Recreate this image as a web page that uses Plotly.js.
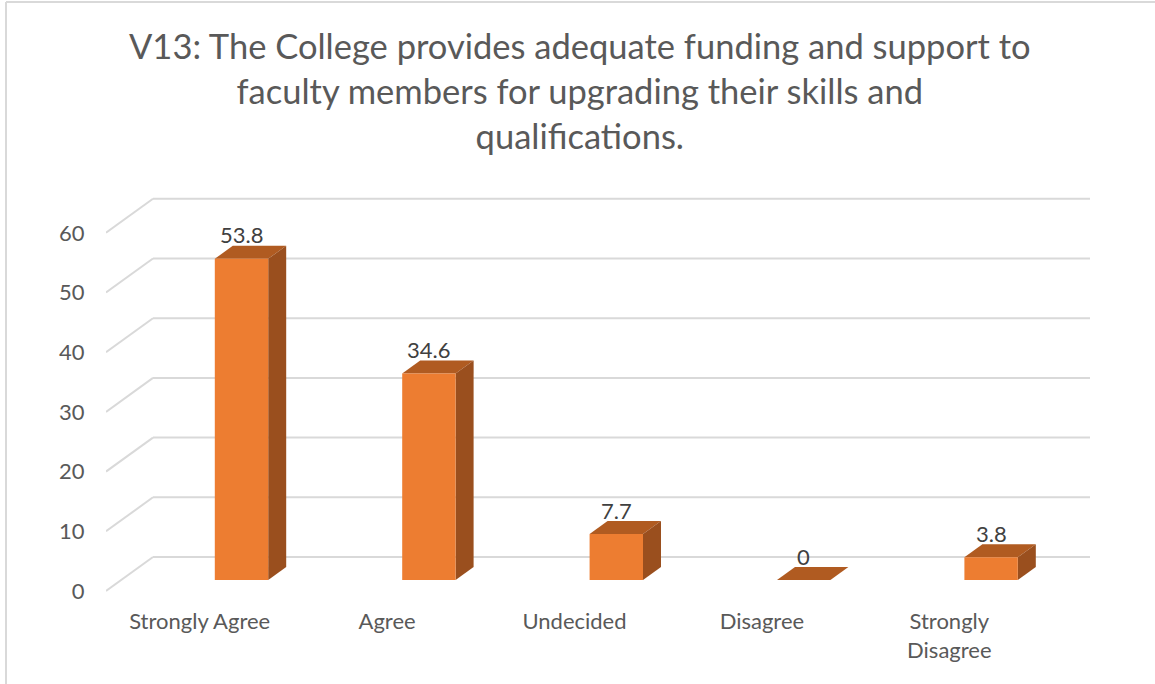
<!DOCTYPE html>
<html>
<head>
<meta charset="utf-8">
<script src="https://cdn.plot.ly/plotly-3.0.1.min.js"></script>
<style>html,body{margin:0;padding:0;background:#fff;}#chart{width:1155px;height:684px;}</style>
</head>
<body>
<div id="chart"></div>
<script>
// ---- data ----
const categories = ['Strongly Agree', 'Agree', 'Undecided', 'Disagree', 'Strongly Disagree'];
const tickLabels = ['Strongly Agree', 'Agree', 'Undecided', 'Disagree', 'Strongly<br>Disagree'];
const values = [53.8, 34.6, 7.7, 0, 3.8];
const yTicks = [0, 10, 20, 30, 40, 50, 60];
const titleText = 'V13: The College provides adequate funding and support to<br>faculty members for upgrading their skills and<br>qualifications.';

// ---- geometry (pixels) ----
const W = 1155, H = 684;
const plotL = 106, plotR = 1090, plotT = 160, plotB = 600;
const pxPerUnit = 5.97;          // pixels per value unit
const front0 = 591;              // pixel y of value 0 on the front floor edge
const slot = 187.4;              // pixels per category
const firstSlot = 199.7;         // pixel x of first category (front edge)
const barOffsetPx = 41.8, barWidthPx = 53.4;
const barFrontLiftPx = 11;       // bar front face sits above front edge
const depthDx = 18, depthDy = 13;  // bar depth
const wallDx = 47, wallDy = 34;    // floor/wall depth

const xr = [(plotL - firstSlot) / slot, (plotR - firstSlot) / slot];
const yr = [(front0 - plotB) / pxPerUnit, (front0 - plotT) / pxPerUnit];
const barShift = barFrontLiftPx / pxPerUnit;
const y2r = [yr[0] - barShift, yr[1] - barShift];

const bx = categories.map((c, i) => i + barOffsetPx / slot);
const bw = barWidthPx / slot;
const ddx = depthDx / slot, ddy = depthDy / pxPerUnit;
const wdx = wallDx / slot, wdy = wallDy / pxPerUnit;

const px2paperX = p => (p - plotL) / (plotR - plotL);
const px2paperY = p => (plotB - p) / (plotB - plotT);

const gridColor = '#D9D9D9';
const shapes = [];
// gridlines: diagonal on left wall + horizontal on back wall
yTicks.forEach(v => {
  shapes.push({type: 'line', xref: 'x', yref: 'y', layer: 'below',
    x0: xr[0], y0: v, x1: xr[0] + wdx, y1: v + wdy,
    line: {color: gridColor, width: 2}});
  shapes.push({type: 'line', xref: 'x', yref: 'y', layer: 'below',
    x0: xr[0] + wdx, y0: v + wdy, x1: xr[1], y1: v + wdy,
    line: {color: gridColor, width: 2}});
});
// 3D faces of the bars
values.forEach((v, i) => {
  const x0 = bx[i] - bw / 2, x1 = bx[i] + bw / 2;
  shapes.push({type: 'path', xref: 'x', yref: 'y2', layer: 'below',
    path: `M${x0},${v} L${x1},${v} L${x1 + ddx},${v + ddy} L${x0 + ddx},${v + ddy} Z`,
    fillcolor: '#B05B21', line: {width: 0}});
  if (v > 0) {
    shapes.push({type: 'path', xref: 'x', yref: 'y2', layer: 'below',
      path: `M${x1},0 L${x1},${v} L${x1 + ddx},${v + ddy} L${x1 + ddx},${ddy} Z`,
      fillcolor: '#9A4F1E', line: {width: 0}});
  }
});
// chart border (left + top)
shapes.push({type: 'line', xref: 'paper', yref: 'paper',
  x0: px2paperX(6), y0: px2paperY(2), x1: px2paperX(6), y1: px2paperY(H + 5),
  line: {color: gridColor, width: 2}});
shapes.push({type: 'line', xref: 'paper', yref: 'paper',
  x0: px2paperX(6), y0: px2paperY(2), x1: px2paperX(W + 5), y1: px2paperY(2),
  line: {color: gridColor, width: 2}});

const annotations = values.map((v, i) => ({
  x: bx[i], y: v, xref: 'x', yref: 'y2', text: String(v), showarrow: false,
  yshift: 24, xanchor: 'center', yanchor: 'middle',
  font: {family: 'Lato, sans-serif', size: 22, color: '#404040'}
}));

const trace = {
  type: 'bar', x: bx, y: values, width: bw, yaxis: 'y2',
  marker: {color: '#ED7D31', line: {width: 0}},
  hovertemplate: '%{customdata}: %{y}<extra></extra>', customdata: categories
};

const layout = {
  width: W, height: H,
  margin: {l: plotL, r: W - plotR, t: plotT, b: H - plotB, pad: 0},
  paper_bgcolor: '#fff', plot_bgcolor: 'rgba(0,0,0,0)',
  showlegend: false,
  font: {family: 'Lato, sans-serif', color: '#595959'},
  title: {text: titleText, x: 0.502, xref: 'container', xanchor: 'center',
    y: 1 - 59 / H, yref: 'container', yanchor: 'top',
    font: {family: 'Lato, sans-serif', size: 34.5, color: '#595959'}},
  xaxis: {range: xr, tickvals: categories.map((c, i) => i), ticktext: tickLabels,
    showgrid: false, zeroline: false, showline: false,
    ticks: 'outside', ticklen: 2, tickcolor: 'rgba(0,0,0,0)',
    tickfont: {family: 'Lato, sans-serif', size: 22, color: '#595959'}, fixedrange: true},
  yaxis: {range: yr, tickvals: yTicks, showgrid: false, zeroline: false, showline: false,
    ticks: 'outside', ticklen: 16, tickcolor: 'rgba(0,0,0,0)',
    tickfont: {family: 'Lato, sans-serif', size: 22, color: '#595959'}, fixedrange: true},
  yaxis2: {range: y2r, overlaying: 'y', visible: false, fixedrange: true},
  shapes: shapes,
  annotations: annotations
};

Plotly.newPlot('chart', [trace], layout, {displayModeBar: false, staticPlot: true});
</script>
</body>
</html>
